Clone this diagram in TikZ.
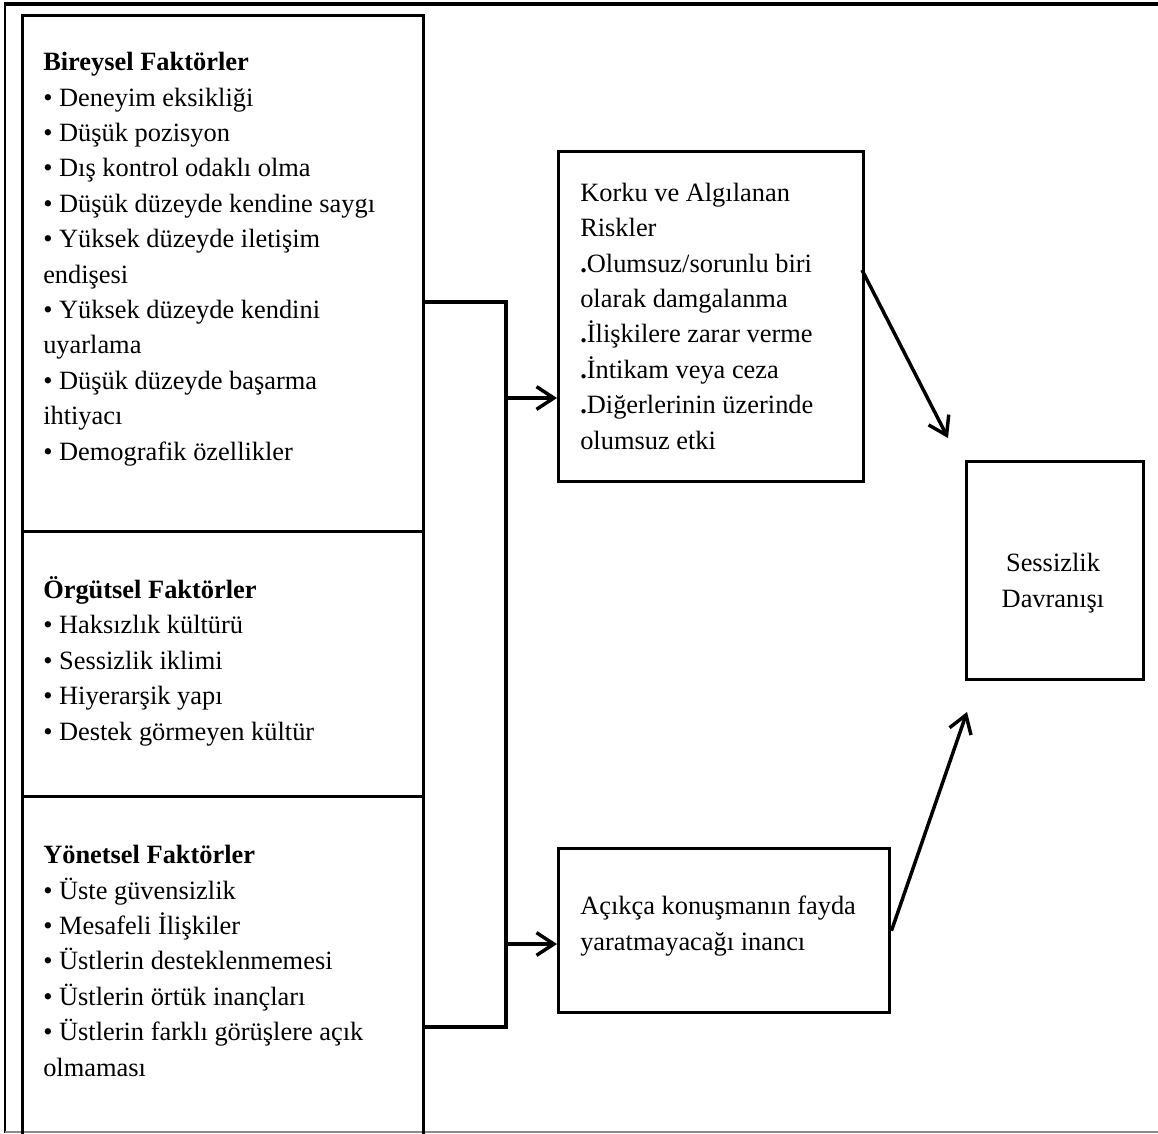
\documentclass[tikz,border=0pt]{standalone}
\usepackage{fontspec}
\setmainfont{Liberation Serif}
\usetikzlibrary{arrows.meta}

\begin{document}
\begin{tikzpicture}[
  x=.75pt,y=-.75pt,
  font=\fontsize{19.8}{26.55}\selectfont,
  box/.style={draw=black,line width=2.6pt,inner sep=0pt,anchor=north west},
  link/.style={draw=black,line width=2.6pt},
  arr/.style={link,-{Straight Barb[length=13pt,width=17pt]}},
  txt/.style={anchor=base west,align=left,inner sep=0pt}
]
\useasboundingbox (0,0) rectangle (1158,1133);

% Page frame.
\draw[line width=2.4pt] (4,4) -- (1158,4);
\draw[line width=1.1pt] (5,4) -- (5,1133);
\draw[black!45,line width=1.1pt] (5,1132) -- (1158,1132);

% Factor column (text nodes are placed by their last baseline).
\node[box,minimum width=300.75pt,minimum height=387pt]    (bireysel) at (21,14) {};
\node[box,minimum width=300.75pt,minimum height=198.75pt] (orgutsel) at (21,530) {};
\node[box,minimum width=300.75pt,minimum height=258.75pt] (yonetsel) at (21,795) {};

\node[txt] (bireyseltxt) at (43,460)
  {\textbf{Bireysel Faktörler}\\
   • Deneyim eksikliği\\
   • Düşük pozisyon\\
   • Dış kontrol odaklı olma\\
   • Düşük düzeyde kendine saygı\\
   • Yüksek düzeyde iletişim\\
   endişesi\\
   • Yüksek düzeyde kendini\\
   uyarlama\\
   • Düşük düzeyde başarma\\
   ihtiyacı\\
   • Demografik özellikler};
\node[txt] (orgutseltxt) at (43,740)
  {\textbf{Örgütsel Faktörler}\\
   • Haksızlık kültürü\\
   • Sessizlik iklimi\\
   • Hiyerarşik yapı\\
   • Destek görmeyen kültür};
\node[txt] (yonetseltxt) at (43,1076)
  {\textbf{Yönetsel Faktörler}\\
   • Üste güvensizlik\\
   • Mesafeli İlişkiler\\
   • Üstlerin desteklenmemesi\\
   • Üstlerin örtük inançları\\
   • Üstlerin farklı görüşlere açık\\
   olmaması};

% Mediating boxes.
\node[box,minimum width=228.75pt,minimum height=247.5pt] (korku) at (557,150) {};
\node[txt] (korkutxt) at (580,449)
  {Korku ve Algılanan\\
   Riskler\\
   \textbf{.}Olumsuz/sorunlu biri\\
   olarak damgalanma\\
   \textbf{.}İlişkilere zarar verme\\
   \textbf{.}İntikam veya ceza\\
   \textbf{.}Diğerlerinin üzerinde\\
   olumsuz etki};
\node[box,minimum width=248.25pt,minimum height=123pt] (acikca) at (557,847) {};
\node[txt] (acikcatxt) at (580,950)
  {Açıkça konuşmanın fayda\\
   yaratmayacağı inancı};

% Outcome.
\node[box,minimum width=132.75pt,minimum height=163.5pt] (sessizlik) at (965,460) {};
\node[txt,anchor=base,align=center] (sessizliktxt) at (1053,607)
  {Sessizlik\\Davranışı};

% Bracket joining the factor column.
\coordinate (jtop) at (506,302);
\coordinate (jbot) at (506,1027);
\draw[link] (bireysel.east |- jtop) -- (jtop) -- (jbot) -- (yonetsel.east |- jbot);

% Arrows into the mediating boxes.
\coordinate (jk) at (506,398);
\coordinate (ja) at (506,944);
\draw[arr] (jk) -- (jk -| korku.west);
\draw[arr] (ja) -- (ja -| acikca.west);

% Arrows towards the outcome.
\coordinate (kout) at (862,270);
\coordinate (sin1) at (948,438);
\coordinate (sin2) at (967,712);
\draw[arr] (kout) -- (sin1);
\draw[arr] (acikca.east) -- (sin2);

\end{tikzpicture}
\end{document}
